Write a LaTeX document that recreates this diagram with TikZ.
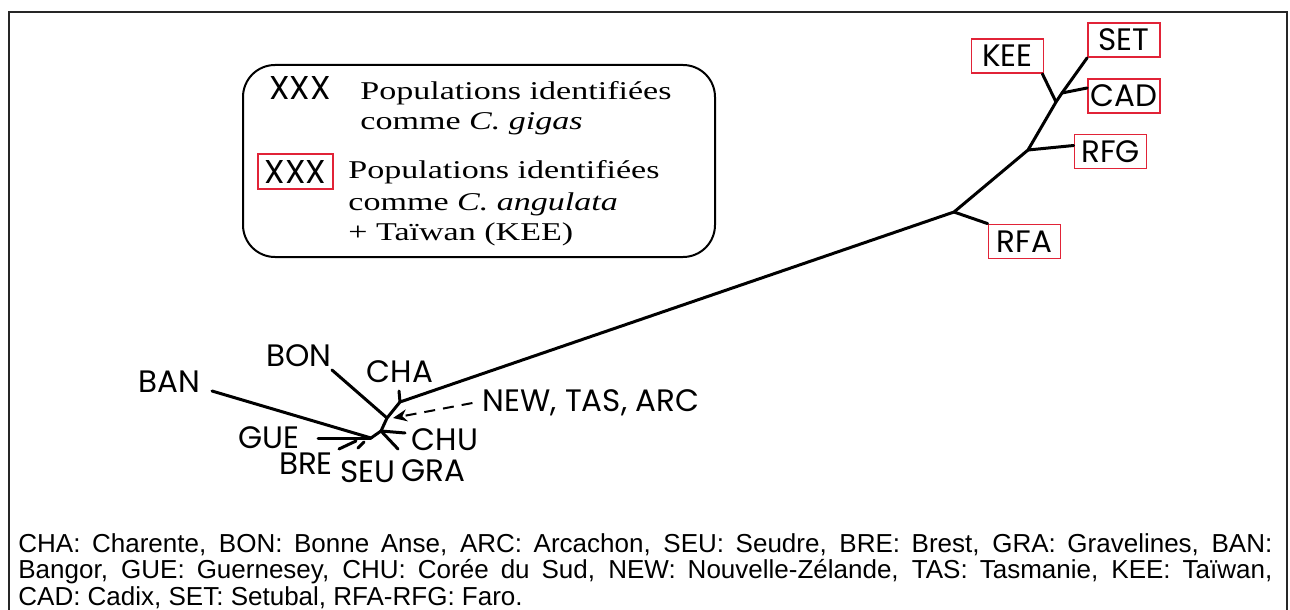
\documentclass[tikz,border=0pt]{standalone}
\usepackage{fontspec}
\setmainfont{Liberation Serif}
\newfontfamily\legfont[FakeStretch=1.33]{Liberation Serif}
\newfontfamily\treefont{Poppins}
\newfontfamily\capfont{Liberation Sans}
\usetikzlibrary{arrows.meta, positioning, calc}
\definecolor{boxred}{RGB}{225,35,55}

\tikzset{
  branch/.style={line width=1.5pt, line cap=round},
  taxon/.style={font=\treefont\fontsize{15.5}{17}\selectfont, inner sep=0pt},
  redtaxon/.style={taxon, draw=boxred, line width=0.9pt, minimum width=36pt, minimum height=17pt},
  legtext/.style={font=\legfont\fontsize{12.8}{15}\selectfont, inner sep=0pt, anchor=base west},
}

\begin{document}
\begin{tikzpicture}[x=0.5pt, y=-0.5pt]
    \useasboundingbox (0,0) rectangle (1290,610);
    % cadre
    \draw[line width=1pt, black!85] (9,610) -- (9,12) -- (1287,12) -- (1287,610);

    % légende
    \draw[line width=1pt, rounded corners=16pt] (243,65) rectangle (715,257);
    \node[taxon, font=\treefont\fontsize{16.5}{18}\selectfont, anchor=base west] (xxxA) at (269,100) {XXX};
    \node[legtext] (gigasA) at (360,100) {Populations identifiées};
    \node[legtext] (gigasB) at (360,129) {comme \textit{C. gigas}};
    \node[redtaxon, font=\treefont\fontsize{16.5}{18}\selectfont, minimum width=37.5pt, minimum height=17.5pt] (xxxB) at (295.5,171.5) {XXX};
    \node[legtext] (angA) at (348,178) {Populations identifiées};
    \node[legtext] (angB) at (348,210) {comme \textit{C. angulata}};
    \node[legtext] (angC) at (348,240) {+ Taïwan (KEE)};

    % populations C. angulata
    \node[redtaxon] (SET) at (1124,40) {SET};
    \node[redtaxon] (KEE) at (1007.5,56) {KEE};
    \node[redtaxon] (CAD) at (1124,96) {CAD};
    \node[redtaxon] (RFG) at (1110.5,151.5) {RFG};
    \node[redtaxon] (RFA) at (1024.5,241.5) {RFA};

    % populations C. gigas
    \node[taxon] (BAN) at (169,382) {BAN};
    \node[taxon] (BON) at (299,356) {BON};
    \node[taxon] (CHA) at (400,372) {CHA};
    \node[taxon] (NTA) at (591,403) {NEW, TAS, ARC};
    \node[taxon] (CHU) at (445,440) {CHU};
    \node[taxon] (GRA) at (433,471) {GRA};
    \node[taxon] (SEU) at (368,472) {SEU};
    \node[taxon] (BRE) at (306,464) {BRE};
    \node[taxon] (GUE) at (269,438) {GUE};

    % noeuds internes
    \coordinate (nA) at (954,212);
    \coordinate (nB) at (1028,150);
    \coordinate (nC) at (1056,102);
    \coordinate (nD) at (1062,93);
    \coordinate (nE) at (400,402);
    \coordinate (nF) at (387,418);
    \coordinate (nH) at (381,431);
    \coordinate (nG) at (371,438);

    % bouts de branches
    \coordinate (chaEnd) at (399,391);
    \coordinate (bonEnd) at (332,370);
    \coordinate (chuEnd) at (405,433);
    \coordinate (graEnd) at (398,449);
    \coordinate (gueEnd) at (318,438);
    \coordinate (banEnd) at (212,391);
    \coordinate (breEnd) at (339,449);
    \coordinate (breTip) at (356,441);
    \coordinate (seuEnd) at (358,448);
    \coordinate (seuTip) at (364,442);
    \coordinate (ntaTip) at (393,418);

    % arbre
    \draw[branch] (nG) -- (nH) -- (nF) -- (nE) -- (nA) -- (nB) -- (nC) -- (nD) -- (SET.south west);
    \draw[branch] (nA) -- (RFA.north west);
    \draw[branch] (nB) -- ($(RFG.west)+(0,-6)$);
    \draw[branch] (nC) -- ($(KEE.south east)+(-2,0)$);
    \draw[branch] (nD) -- ($(CAD.west)+(0,-8)$);
    \draw[branch] (nE) -- (chaEnd);
    \draw[branch] (bonEnd) -- (nF);
    \draw[branch] (nH) -- (chuEnd);
    \draw[branch] (nH) -- (graEnd);
    \draw[branch] (gueEnd) -- (nG);
    \draw[branch] (banEnd) -- (nG);
    \draw[branch] (breEnd) -- (breTip);
    \draw[branch] (seuEnd) -- (seuTip);
    \draw[line width=1pt, dash pattern=on 5.5pt off 4pt, -{Stealth[length=7pt, width=6pt]}]
        ([xshift=-5pt]NTA.west) -- (ntaTip);

    % abréviations
    \node[anchor=base west, inner sep=0pt, text width=627pt, align=justify,
          font=\capfont\fontsize{13}{13.25}\selectfont] (abbrev) at (18,552)
        {CHA: Charente, BON: Bonne Anse, ARC: Arcachon, SEU: Seudre, BRE: Brest, GRA: Gravelines, BAN:\linebreak
         Bangor, GUE: Guernesey, CHU: Corée du Sud, NEW: Nouvelle-Zélande, TAS: Tasmanie, KEE: Taïwan,\linebreak
         CAD: Cadix, SET: Setubal, RFA-RFG: Faro.};
\end{tikzpicture}
\end{document}
